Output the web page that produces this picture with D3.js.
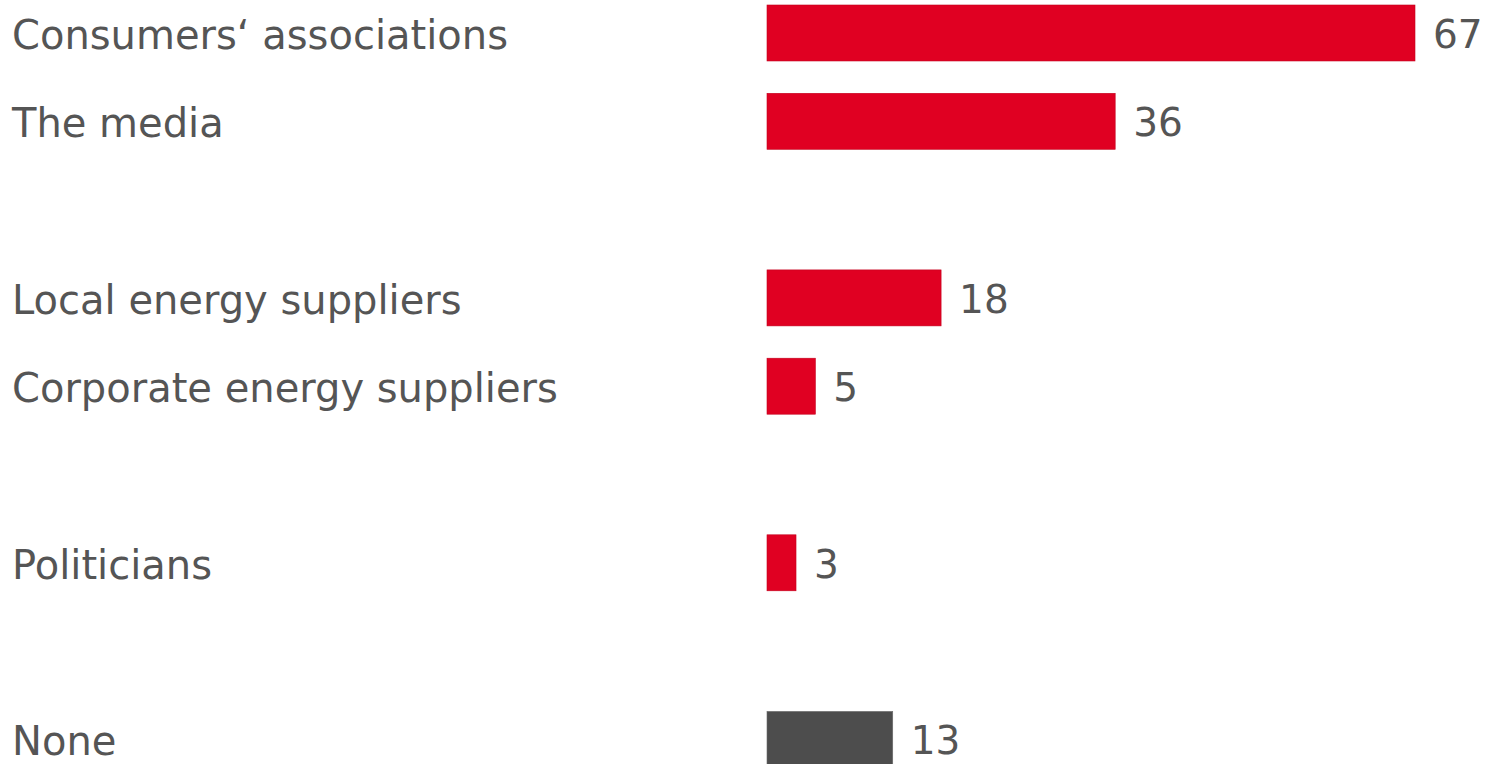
<!DOCTYPE html>
<html><head><meta charset="utf-8">
<script src="https://cdn.jsdelivr.net/npm/d3@7"></script>
<style>html,body{margin:0;padding:0;background:#fff;overflow:hidden}</style>
</head><body><svg id="chart" width="1488" height="764"></svg>
<script>
const groups = [
  ["Consumers‘ associations", "The media"],
  ["Local energy suppliers", "Corporate energy suppliers"],
  ["Politicians"],
  ["None"]
];
const categories = ["Consumers‘ associations", "The media", "Local energy suppliers", "Corporate energy suppliers", "Politicians", "None"];
const values = [67, 36, 18, 5, 3, 13];
const highlight = ["red", "red", "red", "red", "red", "gray"];

const colors = {red: "#E00022", gray: "#4D4D4D"};
const data = categories.map((c, i) => ({cat: c, val: values[i], kind: highlight[i]}));

// build slot domain with spacers between groups
const slots = [];
groups.forEach((g, gi) => {
  if (gi > 0) slots.push("__gap" + gi);
  g.forEach(c => slots.push(c));
});

const svg = d3.select("#chart");
const y = d3.scaleBand().domain(slots).range([5, 767.4]).paddingInner(0.366).paddingOuter(0);
const x = d3.scaleLinear().domain([0, d3.max(values)]).range([767, 1415]);

const font = "'DejaVu Sans', Verdana, sans-serif";

svg.selectAll("rect.bar").data(data).join("rect")
  .attr("class", "bar")
  .attr("x", x(0))
  .attr("y", d => y(d.cat))
  .attr("width", d => x(d.val) - x(0))
  .attr("height", y.bandwidth())
  .attr("fill", d => colors[d.kind])
  .attr("stroke", d => d.kind === "red" ? "#c4001d" : "#6a6a6a")
  .attr("stroke-width", 0.6);

svg.selectAll("text.lab").data(data).join("text")
  .attr("class", "lab")
  .attr("x", 12)
  .attr("y", d => y(d.cat) + y.bandwidth() / 2 + 16)
  .attr("font-family", font)
  .attr("font-size", 40)
  .attr("fill", "#555555")
  .text(d => d.cat);

svg.selectAll("text.val").data(data).join("text")
  .attr("class", "val")
  .attr("x", d => x(d.val) + 18)
  .attr("y", d => y(d.cat) + y.bandwidth() / 2 + 15)
  .attr("font-family", font)
  .attr("font-size", 39)
  .attr("fill", "#555555")
  .text(d => d.val);
</script>
</body></html>
